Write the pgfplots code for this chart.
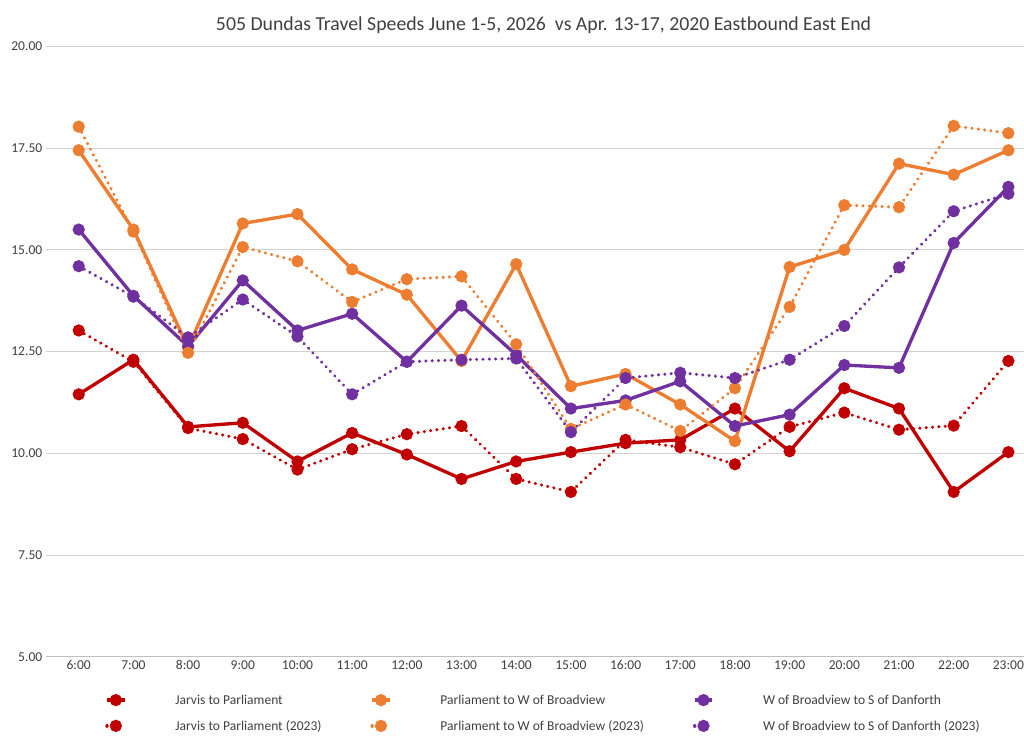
\documentclass[border=0pt]{standalone}
\usepackage{pgfplots}
\pgfplotsset{compat=1.18}
\usepackage{fontspec}
\setmainfont{Carlito}
\definecolor{cr}{HTML}{C00000}
\definecolor{co}{HTML}{ED7D31}
\definecolor{cp}{HTML}{7030A0}
\begin{document}
\begin{tikzpicture}
\path[use as bounding box] (-1.55,-3.05) rectangle (34.57-1.55,25.22-3.05);
\begin{axis}[
 at={(0,0)}, anchor=south west,
 width=33.6cm, height=20.6cm, scale only axis,
 xmin=-0.6, xmax=17.6, ymin=5, ymax=20,
 ytick={5,7.5,10,12.5,15,17.5,20},
 yticklabel style={/pgf/number format/.cd,fixed,fixed zerofill,precision=2},
 /pgf/number format/assume math mode=true,
 xtick={0,...,17},
 xticklabels={6:00,7:00,8:00,9:00,10:00,11:00,12:00,13:00,14:00,15:00,16:00,17:00,18:00,19:00,20:00,21:00,22:00,23:00},
 ymajorgrids, grid style={gray!35, line width=0.8pt},
 axis line style={draw=none}, tick style={draw=none},
 axis x line*=bottom, x axis line style={draw=gray!50, line width=0.8pt},
 tick label style={font=\fontsize{13}{15}\selectfont, text=black!75},
 title={505 Dundas Travel Speeds June 1-5, 2026 \ vs Apr. 13-17, 2020 Eastbound East End},
 title style={font=\fontsize{19}{21}\selectfont, text=black!75, yshift=3pt},
 legend style={at={(0.5,-0.055)}, anchor=north, draw=none, font=\fontsize{13}{15}\selectfont, text=black!75, column sep=45pt, row sep=10pt},
 legend columns=3, legend cell align=left,
 every axis plot/.append style={line width=3.2pt, mark=*, mark size=4.2pt},
]
\addplot[cr, mark options={solid}] coordinates {(0,11.45)(1,12.3)(2,10.65)(3,10.75)(4,9.8)(5,10.5)(6,9.97)(7,9.37)(8,9.8)(9,10.03)(10,10.25)(11,10.33)(12,11.1)(13,10.05)(14,11.6)(15,11.1)(16,9.05)(17,10.03)};
\addlegendentry{Jarvis to Parliament}
\addplot[co, mark options={solid}] coordinates {(0,17.45)(1,15.5)(2,12.6)(3,15.65)(4,15.88)(5,14.52)(6,13.9)(7,12.27)(8,14.65)(9,11.65)(10,11.95)(11,11.2)(12,10.3)(13,14.58)(14,15.0)(15,17.12)(16,16.85)(17,17.45)};
\addlegendentry{Parliament to W of Broadview}
\addplot[cp, mark options={solid}] coordinates {(0,15.5)(1,13.87)(2,12.63)(3,14.25)(4,13.02)(5,13.43)(6,12.25)(7,13.63)(8,12.42)(9,11.1)(10,11.3)(11,11.77)(12,10.67)(13,10.95)(14,12.17)(15,12.1)(16,15.17)(17,16.55)};
\addlegendentry{W of Broadview to S of Danforth}
\addplot[cr, dash pattern=on 0.1pt off 6pt, line cap=round, mark options={solid}] coordinates {(0,13.02)(1,12.25)(2,10.62)(3,10.35)(4,9.6)(5,10.1)(6,10.47)(7,10.67)(8,9.37)(9,9.05)(10,10.33)(11,10.15)(12,9.73)(13,10.65)(14,11.0)(15,10.58)(16,10.68)(17,12.27)};
\addlegendentry{Jarvis to Parliament (2023)}
\addplot[co, dash pattern=on 0.1pt off 6pt, line cap=round, mark options={solid}] coordinates {(0,18.03)(1,15.45)(2,12.47)(3,15.07)(4,14.72)(5,13.72)(6,14.28)(7,14.35)(8,12.68)(9,10.6)(10,11.2)(11,10.55)(12,11.6)(13,13.6)(14,16.1)(15,16.05)(16,18.05)(17,17.87)};
\addlegendentry{Parliament to W of Broadview (2023)}
\addplot[cp, dash pattern=on 0.1pt off 6pt, line cap=round, mark options={solid}] coordinates {(0,14.6)(1,13.85)(2,12.85)(3,13.78)(4,12.87)(5,11.45)(6,12.25)(7,12.3)(8,12.33)(9,10.52)(10,11.85)(11,11.98)(12,11.85)(13,12.3)(14,13.13)(15,14.57)(16,15.95)(17,16.38)};
\addlegendentry{W of Broadview to S of Danforth (2023)}
\end{axis}
\end{tikzpicture}
\end{document}
